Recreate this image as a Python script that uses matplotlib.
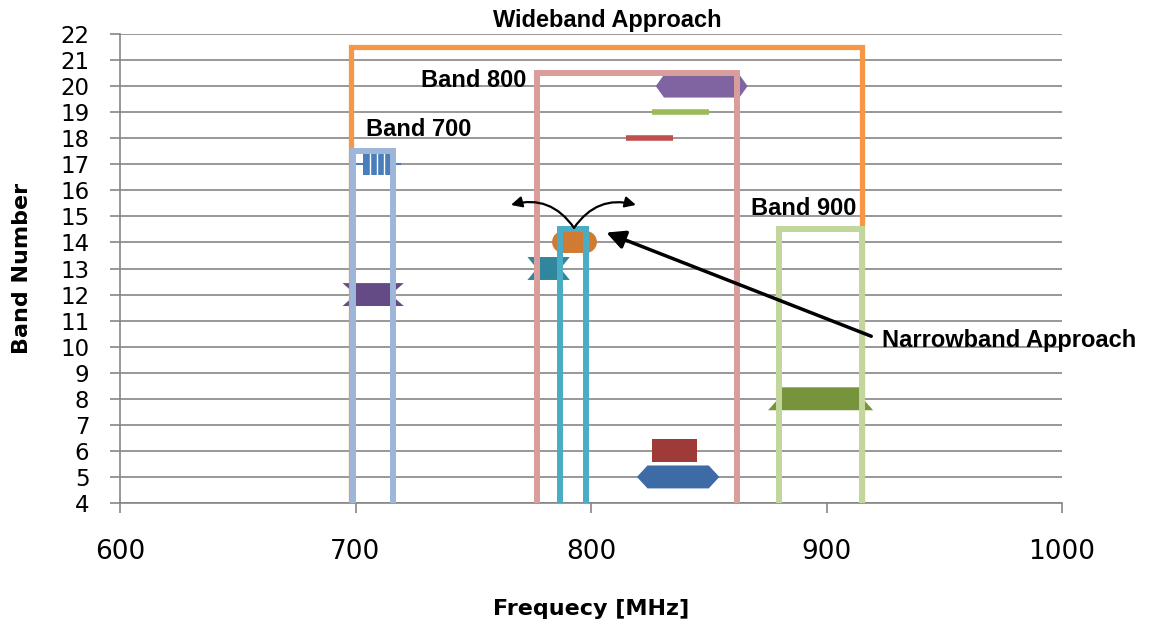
import numpy as np
import matplotlib.pyplot as plt
from matplotlib.patches import Polygon

# bracket series (band groups / approaches)
group_labels = ['Wideband Approach', 'Band 800', 'Band 700', 'Band 900', '']
group_lo = [698, 777, 699, 880, 787]
group_hi = [915, 862, 716, 915, 798]
group_top = [21.5, 20.5, 17.5, 14.5, 14.5]
group_colors = ['#F79646', '#D99E9C', '#9DB6D9', '#C3D69B', '#4BACC6']

# individual LTE bands
band_num = [5, 6, 8, 12, 13, 14, 17, 18, 19, 20]
band_lo = [824, 826, 881, 700, 777, 788, 703, 815, 826, 831]
band_hi = [850, 845, 914, 715, 787, 798, 715, 835, 850, 863]
band_shape = ['hex', 'rect', 'trap', 'ribbon', 'ribbon', 'round', 'stripe', 'bar', 'bar', 'hex']
band_tip = [4.5, 0, 5.8, 5.5, 4, 0, 0, 0, 0, 3.5]
band_colors = ['#3D6BA6', '#9E3B38', '#77933C', '#654B86', '#31859C',
               '#CF7B34', '#4A7EBB', '#C0504D', '#9BBB59', '#8064A2']

fig = plt.figure(figsize=(11.5, 6.26), dpi=100)
ax = fig.add_axes([120/1150, 1-503/626, 942/1150, 469/626])
plt.rcParams['font.family'] = 'Liberation Sans'

def pts(kind, lo, hi, y, tip, h=0.44):
    if kind == 'hex':
        return [(lo-tip, y), (lo, y+h), (hi, y+h), (hi+tip, y), (hi, y-h), (lo, y-h)]
    if kind == 'ribbon':
        return [(lo-tip, y+h), (hi+tip, y+h), (hi, y), (hi+tip, y-h), (lo-tip, y-h), (lo, y)]
    if kind == 'trap':
        return [(lo-tip, y-h), (lo, y+0.15), (lo, y+h), (hi, y+h), (hi, y+0.15), (hi+tip, y-h)]
    return [(lo, y-h), (lo, y+h), (hi, y+h), (hi, y-h)]

for b, lo, hi, kind, tip, c in zip(band_num, band_lo, band_hi, band_shape, band_tip, band_colors):
    if kind == 'round':
        ax.plot([lo, hi], [b, b], color=c, lw=15.8, solid_capstyle='round', zorder=3)
    elif kind == 'bar':
        ax.plot([lo, hi], [b, b], color=c, lw=4, solid_capstyle='butt', zorder=3)
    elif kind == 'stripe':
        ax.plot([lo-4, hi+4], [b, b], color=c, lw=1.5, zorder=3)
        ax.add_patch(Polygon(pts('rect', lo, hi, b, 0, 0.4), closed=True, color=c, lw=0, zorder=3))
        for xs in np.linspace(lo, hi, 5)[1:-1]:
            ax.plot([xs, xs], [b-0.4, b+0.4], color='white', lw=1, zorder=3.1)
    else:
        ax.add_patch(Polygon(pts(kind, lo, hi, b, tip), closed=True, color=c, lw=0, zorder=3))

for i, (lo, hi, top, c) in enumerate(zip(group_lo, group_hi, group_top, group_colors)):
    lw = 3.8 if i == 0 else 4.3
    ax.plot([lo, lo, hi, hi], [4, top, top, 4], color=c, lw=lw,
            solid_joinstyle='miter', zorder=4 + i * 0.1)

ax.set_xlim(600, 1000)
ax.set_ylim(4, 22)
ax.set_xticks(range(600, 1001, 100))
ax.set_yticks(range(4, 23))
ax.yaxis.grid(True, color='#868686', lw=1.2)
ax.set_axisbelow(True)
for s in ['top', 'right']:
    ax.spines[s].set_visible(False)
for s in ['left', 'bottom']:
    ax.spines[s].set_color('#868686')
    ax.spines[s].set_linewidth(1.2)
ax.tick_params(axis='y', direction='out', length=7, color='#868686', width=1.2,
               labelsize=16.5, pad=15)
ax.tick_params(axis='x', direction='out', length=7, color='#868686', width=1.2,
               labelsize=19, pad=19)

ax.set_xlabel('Frequecy [MHz]', fontsize=16, fontweight='bold')
ax.xaxis.set_label_coords(0.5, -0.205)
ax.set_ylabel('Band Number', fontsize=16, fontweight='bold')
ax.yaxis.label.set_va('center')
ax.yaxis.set_label_coords(-0.104, 0.5)

tkw = dict(fontsize=17, fontweight='bold', va='center')
ax.text(806.8, 22.5, group_labels[0], ha='center', **tkw)
ax.text(772.4, 20.2, group_labels[1], ha='right', **tkw)
ax.text(704.5, 18.32, group_labels[2], ha='left', **tkw)
ax.text(868, 15.32, group_labels[3], ha='left', **tkw)
ax.text(923.6, 10.22, 'Narrowband Approach', ha='left', **tkw)

ax.annotate('', xy=(806.5, 14.38), xytext=(919, 10.4),
            arrowprops=dict(arrowstyle='-|>', lw=2.5, color='black',
                            mutation_scale=28, shrinkA=0, shrinkB=0), zorder=6)
ax.annotate('', xy=(766, 15.44), xytext=(792.8, 14.56),
            arrowprops=dict(arrowstyle='-|>', lw=1.6, color='black', mutation_scale=16,
                            shrinkA=0, shrinkB=0, connectionstyle='arc3,rad=0.35'), zorder=6)
ax.annotate('', xy=(819.1, 15.44), xytext=(792.8, 14.56),
            arrowprops=dict(arrowstyle='-|>', lw=1.6, color='black', mutation_scale=16,
                            shrinkA=0, shrinkB=0, connectionstyle='arc3,rad=-0.35'), zorder=6)

fig.savefig('out.png', dpi=100)
